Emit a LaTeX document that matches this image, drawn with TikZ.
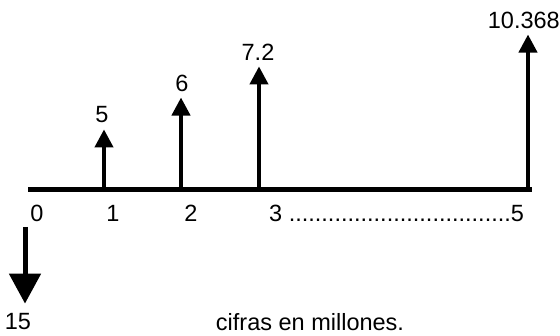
\documentclass[tikz,border=0pt]{standalone}
\usepackage{fontspec}
\setmainfont{Liberation Sans}
\usetikzlibrary{arrows.meta}
\usetikzlibrary{positioning}

\tikzset{
  flow/.style={line width=4pt,-{Triangle[length=18pt,width=18pt]}},
  outflow/.style={line width=5pt,-{Triangle[length=30pt,width=31pt]}},
  val/.style={font=\fontsize{23.5}{27}\selectfont,inner sep=0pt},
}

\begin{document}
\begin{tikzpicture}[x=1pt,y=-1pt]
            \useasboundingbox (0,0) rectangle (560,336);

            \coordinate (t0) at (28,190);
            \coordinate (t5) at (532,190);
            \draw[line width=5pt] (t0)--(t5);

            \coordinate (b1) at (104,190);
            \coordinate (b2) at (181,188);
            \coordinate (b3) at (259,190);
            \coordinate (b5) at (528,190);

            \node[val] (v1) at (102,115) {5};
            \node[val] (v2) at (182,83) {6};
            \node[val] (v3) at (258,52) {7.2};
            \node[val,anchor=east] (v5) at (560,20) {10.368};

            \draw[flow,shorten >=6pt] (b1)--(b1 |- v1.south);
            \draw[flow,shorten >=6pt] (b2)--(b2 |- v2.south);
            \draw[flow,shorten >=6pt] (b3)--(b3 |- v3.south);
            \draw[flow,shorten >=6pt] (b5)--(b5 |- v5.south);

            \node[val] (n0) at (37,213) {0};
            \node[val] (n1) at (113,213) {1};
            \node[val] (n2) at (191,213) {2};
            \node[val,anchor=west] (n3) at (269,213) {3 ..................................5};

            \coordinate (d0) at (25,227);
            \node[val] (v0) at (18,322) {15};
            \draw[outflow,shorten >=10pt] (d0)--(d0 |- v0.north);

            \node[val] (note) at (310,322) {cifras en millones.};
        \end{tikzpicture}
\end{document}
